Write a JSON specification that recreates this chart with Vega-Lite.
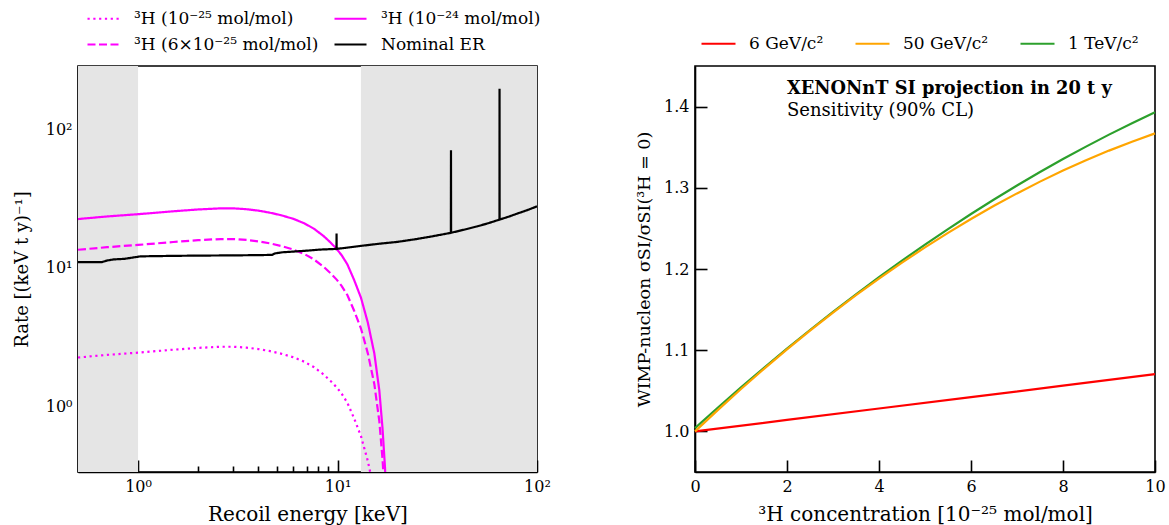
{
  "$schema": "https://vega.github.io/schema/vega-lite/v6.json",
  "background": "white",
  "padding": {"left": 12, "top": 0, "right": 2, "bottom": 2},
  "config": {
    "font": "DejaVu Serif",
    "view": {"stroke": "black", "strokeWidth": 1.6},
    "axis": {
      "grid": false, "domainColor": "black", "domainWidth": 1.6, "zindex": 1,
      "tickColor": "black", "tickWidth": 1.6, "labelColor": "black", "titleColor": "black",
      "labelFont": "DejaVu Serif", "titleFont": "DejaVu Serif", "labelFontSize": 16,
      "titleFontSize": 18, "titleFontWeight": "normal", "labelFlush": false, "labelOverlap": false
    },
    "legend": {"labelFont": "DejaVu Serif", "labelFontSize": 17, "labelColor": "black", "labelLimit": 400}
  },
  "datasets": {
    "spans": [{"start": 0.5, "end": 1.0}, {"start": 13.1, "end": 100}],
    "rates": [
      {"s": "³H (10⁻²⁵ mol/mol)", "E": 0.5, "R": 2.25}, {"s": "³H (10⁻²⁵ mol/mol)", "E": 0.7, "R": 2.35}, {"s": "³H (10⁻²⁵ mol/mol)", "E": 1.0, "R": 2.44}, {"s": "³H (10⁻²⁵ mol/mol)", "E": 1.5, "R": 2.56}, {"s": "³H (10⁻²⁵ mol/mol)", "E": 2.0, "R": 2.64}, {"s": "³H (10⁻²⁵ mol/mol)", "E": 2.6, "R": 2.69}, {"s": "³H (10⁻²⁵ mol/mol)", "E": 3.0, "R": 2.69}, {"s": "³H (10⁻²⁵ mol/mol)", "E": 3.5, "R": 2.65}, {"s": "³H (10⁻²⁵ mol/mol)", "E": 4.0, "R": 2.59}, {"s": "³H (10⁻²⁵ mol/mol)", "E": 4.6, "R": 2.50}, {"s": "³H (10⁻²⁵ mol/mol)", "E": 5.2, "R": 2.40}, {"s": "³H (10⁻²⁵ mol/mol)", "E": 6.0, "R": 2.26}, {"s": "³H (10⁻²⁵ mol/mol)", "E": 6.8, "R": 2.10}, {"s": "³H (10⁻²⁵ mol/mol)", "E": 7.6, "R": 1.92}, {"s": "³H (10⁻²⁵ mol/mol)", "E": 8.5, "R": 1.70}, {"s": "³H (10⁻²⁵ mol/mol)", "E": 9.2, "R": 1.53}, {"s": "³H (10⁻²⁵ mol/mol)", "E": 9.9, "R": 1.37}, {"s": "³H (10⁻²⁵ mol/mol)", "E": 10.5, "R": 1.23}, {"s": "³H (10⁻²⁵ mol/mol)", "E": 11.2, "R": 1.06}, {"s": "³H (10⁻²⁵ mol/mol)", "E": 12.1, "R": 0.82}, {"s": "³H (10⁻²⁵ mol/mol)", "E": 13.1, "R": 0.61}, {"s": "³H (10⁻²⁵ mol/mol)", "E": 14.2, "R": 0.40}, {"s": "³H (10⁻²⁵ mol/mol)", "E": 15.3, "R": 0.24}, {"s": "³H (10⁻²⁵ mol/mol)", "E": 16.2, "R": 0.13}, {"s": "³H (10⁻²⁵ mol/mol)", "E": 16.8, "R": 0.07},
      {"s": "³H (6×10⁻²⁵ mol/mol)", "E": 0.5, "R": 13.5}, {"s": "³H (6×10⁻²⁵ mol/mol)", "E": 0.7, "R": 14.1}, {"s": "³H (6×10⁻²⁵ mol/mol)", "E": 1.0, "R": 14.64}, {"s": "³H (6×10⁻²⁵ mol/mol)", "E": 1.5, "R": 15.36}, {"s": "³H (6×10⁻²⁵ mol/mol)", "E": 2.0, "R": 15.84}, {"s": "³H (6×10⁻²⁵ mol/mol)", "E": 2.6, "R": 16.14}, {"s": "³H (6×10⁻²⁵ mol/mol)", "E": 3.0, "R": 16.14}, {"s": "³H (6×10⁻²⁵ mol/mol)", "E": 3.5, "R": 15.9}, {"s": "³H (6×10⁻²⁵ mol/mol)", "E": 4.0, "R": 15.54}, {"s": "³H (6×10⁻²⁵ mol/mol)", "E": 4.6, "R": 15.0}, {"s": "³H (6×10⁻²⁵ mol/mol)", "E": 5.2, "R": 14.4}, {"s": "³H (6×10⁻²⁵ mol/mol)", "E": 6.0, "R": 13.56}, {"s": "³H (6×10⁻²⁵ mol/mol)", "E": 6.8, "R": 12.6}, {"s": "³H (6×10⁻²⁵ mol/mol)", "E": 7.6, "R": 11.52}, {"s": "³H (6×10⁻²⁵ mol/mol)", "E": 8.5, "R": 10.2}, {"s": "³H (6×10⁻²⁵ mol/mol)", "E": 9.2, "R": 9.18}, {"s": "³H (6×10⁻²⁵ mol/mol)", "E": 9.9, "R": 8.22}, {"s": "³H (6×10⁻²⁵ mol/mol)", "E": 10.5, "R": 7.38}, {"s": "³H (6×10⁻²⁵ mol/mol)", "E": 11.2, "R": 6.36}, {"s": "³H (6×10⁻²⁵ mol/mol)", "E": 12.1, "R": 4.92}, {"s": "³H (6×10⁻²⁵ mol/mol)", "E": 13.1, "R": 3.66}, {"s": "³H (6×10⁻²⁵ mol/mol)", "E": 14.2, "R": 2.4}, {"s": "³H (6×10⁻²⁵ mol/mol)", "E": 15.3, "R": 1.44}, {"s": "³H (6×10⁻²⁵ mol/mol)", "E": 16.2, "R": 0.78}, {"s": "³H (6×10⁻²⁵ mol/mol)", "E": 16.8, "R": 0.42}, {"s": "³H (6×10⁻²⁵ mol/mol)", "E": 17.3, "R": 0.216}, {"s": "³H (6×10⁻²⁵ mol/mol)", "E": 17.7, "R": 0.096},
      {"s": "³H (10⁻²⁴ mol/mol)", "E": 0.5, "R": 22.5}, {"s": "³H (10⁻²⁴ mol/mol)", "E": 0.7, "R": 23.5}, {"s": "³H (10⁻²⁴ mol/mol)", "E": 1.0, "R": 24.4}, {"s": "³H (10⁻²⁴ mol/mol)", "E": 1.5, "R": 25.6}, {"s": "³H (10⁻²⁴ mol/mol)", "E": 2.0, "R": 26.4}, {"s": "³H (10⁻²⁴ mol/mol)", "E": 2.6, "R": 26.9}, {"s": "³H (10⁻²⁴ mol/mol)", "E": 3.0, "R": 26.9}, {"s": "³H (10⁻²⁴ mol/mol)", "E": 3.5, "R": 26.5}, {"s": "³H (10⁻²⁴ mol/mol)", "E": 4.0, "R": 25.9}, {"s": "³H (10⁻²⁴ mol/mol)", "E": 4.6, "R": 25.0}, {"s": "³H (10⁻²⁴ mol/mol)", "E": 5.2, "R": 24.0}, {"s": "³H (10⁻²⁴ mol/mol)", "E": 6.0, "R": 22.6}, {"s": "³H (10⁻²⁴ mol/mol)", "E": 6.8, "R": 21.0}, {"s": "³H (10⁻²⁴ mol/mol)", "E": 7.6, "R": 19.2}, {"s": "³H (10⁻²⁴ mol/mol)", "E": 8.5, "R": 17.0}, {"s": "³H (10⁻²⁴ mol/mol)", "E": 9.2, "R": 15.3}, {"s": "³H (10⁻²⁴ mol/mol)", "E": 9.9, "R": 13.7}, {"s": "³H (10⁻²⁴ mol/mol)", "E": 10.5, "R": 12.3}, {"s": "³H (10⁻²⁴ mol/mol)", "E": 11.2, "R": 10.6}, {"s": "³H (10⁻²⁴ mol/mol)", "E": 12.1, "R": 8.2}, {"s": "³H (10⁻²⁴ mol/mol)", "E": 13.1, "R": 6.1}, {"s": "³H (10⁻²⁴ mol/mol)", "E": 14.2, "R": 4.0}, {"s": "³H (10⁻²⁴ mol/mol)", "E": 15.3, "R": 2.4}, {"s": "³H (10⁻²⁴ mol/mol)", "E": 16.2, "R": 1.3}, {"s": "³H (10⁻²⁴ mol/mol)", "E": 16.8, "R": 0.70}, {"s": "³H (10⁻²⁴ mol/mol)", "E": 17.3, "R": 0.36}, {"s": "³H (10⁻²⁴ mol/mol)", "E": 17.7, "R": 0.16}, {"s": "³H (10⁻²⁴ mol/mol)", "E": 18.0, "R": 0.07},
      {"s": "Nominal ER", "E": 0.5, "R": 11.0}, {"s": "Nominal ER", "E": 0.66, "R": 11.0}, {"s": "Nominal ER", "E": 0.70, "R": 11.3}, {"s": "Nominal ER", "E": 0.754, "R": 11.5}, {"s": "Nominal ER", "E": 0.85, "R": 11.6}, {"s": "Nominal ER", "E": 1.03, "R": 12.1}, {"s": "Nominal ER", "E": 1.5, "R": 12.2}, {"s": "Nominal ER", "E": 2.0, "R": 12.25}, {"s": "Nominal ER", "E": 3.0, "R": 12.3}, {"s": "Nominal ER", "E": 4.0, "R": 12.35}, {"s": "Nominal ER", "E": 4.7, "R": 12.4}, {"s": "Nominal ER", "E": 4.85, "R": 12.7}, {"s": "Nominal ER", "E": 5.3, "R": 12.95}, {"s": "Nominal ER", "E": 6.0, "R": 13.1}, {"s": "Nominal ER", "E": 7.0, "R": 13.3}, {"s": "Nominal ER", "E": 8.2, "R": 13.55}, {"s": "Nominal ER", "E": 9.88, "R": 13.7}, {"s": "Nominal ER", "E": 9.89, "R": 17.7}, {"s": "Nominal ER", "E": 9.9, "R": 13.7}, {"s": "Nominal ER", "E": 11.0, "R": 13.95}, {"s": "Nominal ER", "E": 13.1, "R": 14.4}, {"s": "Nominal ER", "E": 16.0, "R": 14.9}, {"s": "Nominal ER", "E": 20.0, "R": 15.4}, {"s": "Nominal ER", "E": 25.0, "R": 16.15}, {"s": "Nominal ER", "E": 30.0, "R": 16.9}, {"s": "Nominal ER", "E": 37.0, "R": 17.9}, {"s": "Nominal ER", "E": 37.05, "R": 70.6}, {"s": "Nominal ER", "E": 37.1, "R": 17.9}, {"s": "Nominal ER", "E": 44.0, "R": 19.0}, {"s": "Nominal ER", "E": 50.0, "R": 19.9}, {"s": "Nominal ER", "E": 57.0, "R": 21.0}, {"s": "Nominal ER", "E": 64.85, "R": 22.3}, {"s": "Nominal ER", "E": 64.9, "R": 196.8}, {"s": "Nominal ER", "E": 64.95, "R": 22.3}, {"s": "Nominal ER", "E": 72.0, "R": 23.4}, {"s": "Nominal ER", "E": 80.0, "R": 24.7}, {"s": "Nominal ER", "E": 90.0, "R": 26.2}, {"s": "Nominal ER", "E": 100.0, "R": 27.8}
    ],
    "ratio": [
      {"m": "6 GeV/c²", "c": 0, "v": 1.0}, {"m": "6 GeV/c²", "c": 2, "v": 1.0141}, {"m": "6 GeV/c²", "c": 4, "v": 1.0282}, {"m": "6 GeV/c²", "c": 6, "v": 1.0422}, {"m": "6 GeV/c²", "c": 8, "v": 1.0563}, {"m": "6 GeV/c²", "c": 10, "v": 1.0706},
      {"m": "1 TeV/c²", "c": 0, "v": 1.004}, {"m": "1 TeV/c²", "c": 0.5, "v": 1.0294}, {"m": "1 TeV/c²", "c": 1, "v": 1.0543}, {"m": "1 TeV/c²", "c": 1.5, "v": 1.0784}, {"m": "1 TeV/c²", "c": 2, "v": 1.102}, {"m": "1 TeV/c²", "c": 2.5, "v": 1.1249}, {"m": "1 TeV/c²", "c": 3, "v": 1.1472}, {"m": "1 TeV/c²", "c": 3.5, "v": 1.1689}, {"m": "1 TeV/c²", "c": 4, "v": 1.1899}, {"m": "1 TeV/c²", "c": 4.5, "v": 1.2103}, {"m": "1 TeV/c²", "c": 5, "v": 1.2301}, {"m": "1 TeV/c²", "c": 5.5, "v": 1.2492}, {"m": "1 TeV/c²", "c": 6, "v": 1.2677}, {"m": "1 TeV/c²", "c": 6.5, "v": 1.2856}, {"m": "1 TeV/c²", "c": 7, "v": 1.3028}, {"m": "1 TeV/c²", "c": 7.5, "v": 1.3194}, {"m": "1 TeV/c²", "c": 8, "v": 1.3354}, {"m": "1 TeV/c²", "c": 8.5, "v": 1.3507}, {"m": "1 TeV/c²", "c": 9, "v": 1.3655}, {"m": "1 TeV/c²", "c": 9.5, "v": 1.3795}, {"m": "1 TeV/c²", "c": 10, "v": 1.393},
      {"m": "50 GeV/c²", "c": 0, "v": 1.0}, {"m": "50 GeV/c²", "c": 0.5, "v": 1.0265}, {"m": "50 GeV/c²", "c": 1, "v": 1.0522}, {"m": "50 GeV/c²", "c": 1.5, "v": 1.077}, {"m": "50 GeV/c²", "c": 2, "v": 1.101}, {"m": "50 GeV/c²", "c": 2.5, "v": 1.1241}, {"m": "50 GeV/c²", "c": 3, "v": 1.1463}, {"m": "50 GeV/c²", "c": 3.5, "v": 1.1677}, {"m": "50 GeV/c²", "c": 4, "v": 1.1882}, {"m": "50 GeV/c²", "c": 4.5, "v": 1.2078}, {"m": "50 GeV/c²", "c": 5, "v": 1.2266}, {"m": "50 GeV/c²", "c": 5.5, "v": 1.2445}, {"m": "50 GeV/c²", "c": 6, "v": 1.2616}, {"m": "50 GeV/c²", "c": 6.5, "v": 1.2778}, {"m": "50 GeV/c²", "c": 7, "v": 1.2931}, {"m": "50 GeV/c²", "c": 7.5, "v": 1.3076}, {"m": "50 GeV/c²", "c": 8, "v": 1.3212}, {"m": "50 GeV/c²", "c": 8.5, "v": 1.3339}, {"m": "50 GeV/c²", "c": 9, "v": 1.3458}, {"m": "50 GeV/c²", "c": 9.5, "v": 1.3568}, {"m": "50 GeV/c²", "c": 10, "v": 1.367}
    ]
  },
  "hconcat": [
    {
      "width": 459,
      "height": 406,
      "layer": [
        {
          "data": {"name": "spans"},
          "mark": {"type": "rect", "color": "#e5e5e5"},
          "encoding": {
            "x": {"field": "start", "type": "quantitative", "scale": {"type": "log", "domain": [0.5, 100], "nice": false},
                  "axis": {"orient": "bottom", "values": [0.6, 0.7, 0.8, 0.9, 2, 3, 4, 5, 6, 7, 8, 9, 20, 30, 40, 50, 60, 70, 80, 90], "tickSize": -6, "labels": false, "domain": false, "title": null}},
            "x2": {"field": "end"}
          }
        },
        {
          "data": {"name": "rates"},
          "mark": {"type": "line", "strokeWidth": 2.2, "clip": true},
          "encoding": {
            "x": {"field": "E", "type": "quantitative", "scale": {"type": "log", "domain": [0.5, 100], "nice": false},
                  "axis": {"orient": "bottom", "values": [1, 10, 100], "tickSize": -12, "labelPadding": 18, "title": "Recoil energy [keV]", "titlePadding": 10, "titleFontSize": 20,
                           "labelExpr": "datum.value < 5 ? '10⁰' : datum.value < 50 ? '10¹' : '10²'"}},
            "y": {"field": "R", "type": "quantitative", "scale": {"type": "log", "domain": [0.335, 287], "nice": false},
                  "axis": {"orient": "left", "values": [1, 10, 100], "tickSize": -12, "labelPadding": 18, "title": "Rate [(keV t y)⁻¹]", "titlePadding": 14,
                           "labelExpr": "datum.value < 5 ? '10⁰' : datum.value < 50 ? '10¹' : '10²'"}},
            "color": {"field": "s", "type": "nominal",
                      "scale": {"domain": ["³H (10⁻²⁵ mol/mol)", "³H (10⁻²⁴ mol/mol)", "³H (6×10⁻²⁵ mol/mol)", "Nominal ER"], "range": ["#ff00ff", "#ff00ff", "#ff00ff", "#000000"]},
                      "legend": {"orient": "none", "legendX": 8, "legendY": -65, "columns": 2, "direction": "horizontal", "title": null, "padding": 0,
                                 "symbolType": "stroke", "symbolSize": 1024, "symbolStrokeWidth": 2.2, "labelOffset": 13, "columnPadding": 11, "rowPadding": -6}},
            "strokeDash": {"field": "s", "type": "nominal",
                           "scale": {"domain": ["³H (10⁻²⁵ mol/mol)", "³H (10⁻²⁴ mol/mol)", "³H (6×10⁻²⁵ mol/mol)", "Nominal ER"], "range": [[2.2, 3.6], [1, 0], [8, 3.5], [1, 0]]},
                           "legend": {"orient": "none", "legendX": 8, "legendY": -65, "columns": 2, "direction": "horizontal", "title": null, "padding": 0,
                                 "symbolType": "stroke", "symbolSize": 1024, "symbolStrokeWidth": 2.2, "labelOffset": 13, "columnPadding": 11, "rowPadding": -6}}
          }
        },
        {
          "data": {"name": "rates"},
          "mark": {"type": "point", "opacity": 0},
          "encoding": {
            "x": {"field": "E", "type": "quantitative", "axis": null},
            "y": {"field": "R", "type": "quantitative",
                  "axis": {"values": [0.4, 0.5, 0.6, 0.7, 0.8, 0.9, 2, 3, 4, 5, 6, 7, 8, 9, 20, 30, 40, 50, 60, 70, 80, 90, 200], "tickSize": -6, "labels": false, "domain": false, "title": null, "orient": "left"}}
          }
        }
      ],
      "resolve": {"axis": {"x": "independent", "y": "independent"}}
    },
    {
      "width": 460,
      "height": 406,
      "layer": [
        {
          "data": {"name": "ratio"},
          "mark": {"type": "line", "strokeWidth": 2.2},
          "encoding": {
            "x": {"field": "c", "type": "quantitative", "scale": {"domain": [0, 10], "nice": false},
                  "axis": {"values": [0, 2, 4, 6, 8, 10], "tickSize": -12, "labelPadding": 18, "title": "³H concentration [10⁻²⁵ mol/mol]", "titlePadding": 10, "titleFontSize": 20}},
            "y": {"field": "v", "type": "quantitative", "scale": {"domain": [0.95, 1.45], "nice": false, "zero": false},
                  "axis": {"values": [1.0, 1.1, 1.2, 1.3, 1.4], "format": ".1f", "tickSize": -12, "labelPadding": 18, "title": "WIMP-nucleon σSI/σSI(³H = 0)", "titlePadding": 10, "titleFontSize": 17.5}},
            "color": {"field": "m", "type": "nominal",
                      "scale": {"domain": ["6 GeV/c²", "50 GeV/c²", "1 TeV/c²"], "range": ["#ff0000", "#ffa500", "#2ca02c"]},
                      "legend": {"orient": "none", "legendX": 5, "legendY": -41, "direction": "horizontal", "title": null, "padding": 0,
                                 "symbolType": "stroke", "symbolSize": 1156, "symbolStrokeWidth": 2.2, "labelOffset": 12, "columnPadding": 27}}
          }
        },
        {
          "data": {"values": [{}]},
          "mark": {"type": "text", "align": "left", "baseline": "middle", "fontWeight": "bold", "fontSize": 17.8, "font": "DejaVu Serif", "color": "black"},
          "encoding": {"x": {"datum": 2.0, "type": "quantitative"}, "y": {"datum": 1.4215, "type": "quantitative"}, "text": {"value": "XENONnT SI projection in 20 t y"}}
        },
        {
          "data": {"values": [{}]},
          "mark": {"type": "text", "align": "left", "baseline": "middle", "fontSize": 18, "font": "DejaVu Serif", "color": "black"},
          "encoding": {"x": {"datum": 2.0, "type": "quantitative"}, "y": {"datum": 1.395, "type": "quantitative"}, "text": {"value": "Sensitivity (90% CL)"}}
        }
      ]
    }
  ],
  "spacing": 82,
  "resolve": {"scale": {"color": "independent", "strokeDash": "independent"}, "legend": {"color": "independent", "strokeDash": "independent"}}
}
